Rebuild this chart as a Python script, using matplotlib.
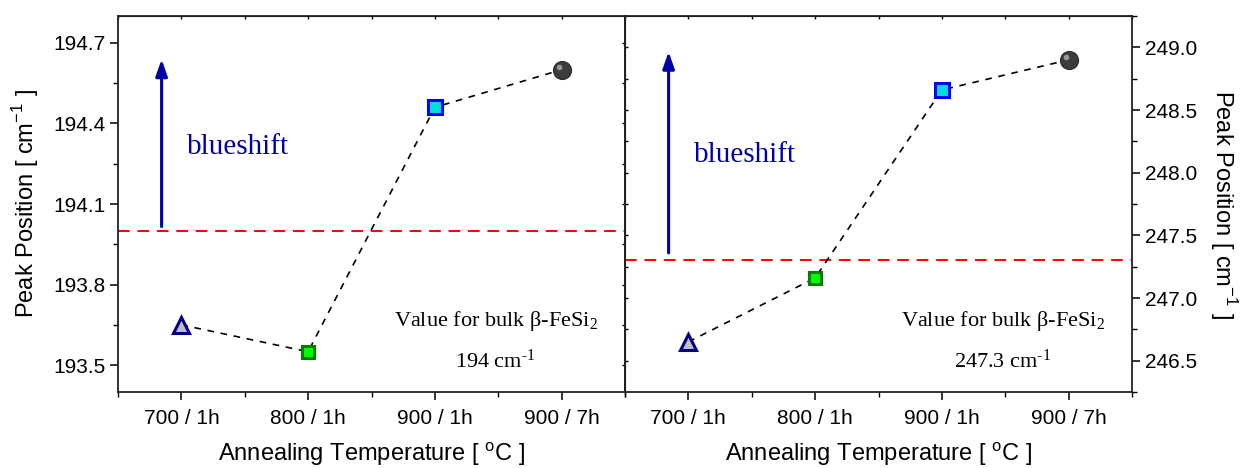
import numpy as np
import matplotlib
matplotlib.use('Agg')
import matplotlib.pyplot as plt
import matplotlib.transforms as mtransforms
from matplotlib.ticker import MultipleLocator, FixedLocator

plt.rcParams['font.family'] = ['Liberation Sans', 'DejaVu Sans']
plt.rcParams['mathtext.fontset'] = 'custom'
plt.rcParams['mathtext.rm'] = 'Liberation Sans'

# data
categories = ['700 / 1h', '800 / 1h', '900 / 1h', '900 / 7h']
peak_194 = [193.65, 193.55, 194.46, 194.60]
peak_247 = [246.65, 247.16, 248.66, 248.90]
bulk_194 = 194.0
bulk_247 = 247.3

# marker styles per sample
markers = ['^', 's', 's', 'o']
faces = ['#c0c0c0', '#00ff00', '#00dddd', '#3c3c3c']
edges = ['#000080', '#008000', '#0000ff', '#2a2a2a']
sizes = [11, 9, 10, 13]

fig = plt.figure(figsize=(12.45, 4.68), dpi=100)
ax1 = fig.add_axes([118/1245, 1-392/468, 507/1245, 376/468])
ax2 = fig.add_axes([625/1245, 1-392/468, 507/1245, 376/468])

xpos = np.arange(1, len(categories)+1)
serif = ['Liberation Serif', 'DejaVu Serif']
blue = '#0000a8'


def draw(ax, vals, bulk, bulk_txt, ylim, major, minor, arrow_y, blue_y):
    ax.plot(xpos, vals, color='k', lw=1.2, ls=(0, (4, 4)), zorder=2)
    for i in range(len(vals)):
        ax.plot(xpos[i], vals[i], marker=markers[i], ms=sizes[i], mfc=faces[i],
                mec=edges[i], mew=2.2 if i < 3 else 0.8, ls='none', zorder=3)
    # highlight on sphere
    off = mtransforms.ScaledTranslation(-2/72, 2/72, fig.dpi_scale_trans)
    ax.plot(xpos[3], vals[3], 'o', ms=4, mfc='#b0b0b0', mec='none', alpha=0.8,
            transform=ax.transData + off, zorder=4)
    ax.axhline(bulk, color='#ff0000', lw=1.4, ls=(0, (6, 4)), zorder=1)

    ax.annotate('', xy=(0.086, arrow_y[1]), xytext=(0.086, arrow_y[0]),
                xycoords='axes fraction', textcoords='axes fraction',
                arrowprops=dict(arrowstyle='-|>,head_width=0.35,head_length=1.0',
                                color=blue, lw=2.2, shrinkA=0, shrinkB=0))
    ax.text(0.136, blue_y, 'blueshift', transform=ax.transAxes, color=blue,
            fontsize=21, family=serif, va='center', ha='left')
    ax.text(0.745, 0.19, r'Value for bulk β-FeSi$\mathregular{_2}$',
            transform=ax.transAxes, fontsize=16, family=serif, ha='center', va='center')
    ax.text(0.744, 0.083, bulk_txt + r' cm$\mathregular{^{‐1}}$',
            transform=ax.transAxes, fontsize=16, family=serif, ha='center', va='center')

    ax.set_xlim(0.5, 4.5)
    ax.set_ylim(*ylim)
    ax.set_xticks(xpos)
    ax.set_xticklabels(categories)
    ax.xaxis.set_minor_locator(FixedLocator(np.arange(0.5, 4.6, 1.0)))
    ax.yaxis.set_major_locator(MultipleLocator(major))
    ax.yaxis.set_minor_locator(MultipleLocator(minor))
    ax.tick_params(which='major', direction='out', length=6, width=1.1, labelsize=15, pad=3)
    ax.tick_params(which='minor', direction='out', length=3.5, width=1.0)
    ax.tick_params(axis='x', which='major', pad=6)
    for s in ax.spines.values():
        s.set_linewidth(1.3)
        s.set_color('#222222')
    ax.set_xlabel(r'Annealing Temperature [ $^{\mathregular{o}}$C ]', fontsize=17, labelpad=9)
    # tiny inner mirror ticks
    sx = ax.secondary_xaxis('top')
    sx.set_xticks(np.arange(0.5, 4.6, 0.5))
    sx.tick_params(direction='in', length=2, width=1.0, labeltop=False)


draw(ax1, peak_194, bulk_194, '194', (193.4, 194.8), 0.3, 0.15, (0.44, 0.885), 0.652)
draw(ax2, peak_247, bulk_247, '247.3', (246.25, 249.25), 0.5, 0.25, (0.37, 0.905), 0.63)

ax1.yaxis.set_major_formatter(matplotlib.ticker.FormatStrFormatter('%.1f'))
ax1.set_ylabel(r'Peak Position [ cm$^{\mathregular{-1}}$ ]', fontsize=17, labelpad=9)
sy1 = ax1.secondary_yaxis('right')
sy1.set_yticks(np.arange(193.5, 194.8, 0.15))
sy1.tick_params(direction='in', length=2, width=1.0, labelright=False)

ax2.yaxis.tick_right()
ax2.yaxis.set_label_position('right')
ax2.yaxis.set_major_formatter(matplotlib.ticker.FormatStrFormatter('%.1f'))
ax2.set_ylabel(r'Peak Position [ cm$^{\mathregular{-1}}$ ]', fontsize=17, labelpad=30, rotation=270)
sy2 = ax2.secondary_yaxis('left')
sy2.set_yticks(np.arange(246.5, 249.1, 0.25))
sy2.tick_params(direction='in', length=2, width=1.0, labelleft=False)

fig.savefig('out.png', dpi=100)
